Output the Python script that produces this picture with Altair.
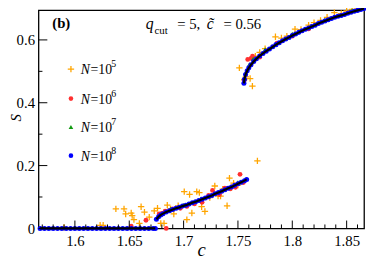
import altair as alt
import pandas as pd

# ---------------- data ----------------
c8_zero = [1.568, 1.572, 1.576, 1.580, 1.584, 1.588, 1.592, 1.596, 1.600, 1.604,
           1.608, 1.612, 1.616, 1.620, 1.624, 1.628, 1.632, 1.636, 1.640, 1.644,
           1.648, 1.652, 1.656, 1.660, 1.664, 1.668, 1.672, 1.674]
S8_zero = [0.0] * len(c8_zero)

c8_low = [1.675, 1.677, 1.679, 1.681, 1.684, 1.687, 1.690, 1.693, 1.696, 1.699,
          1.702, 1.705, 1.708, 1.711, 1.714, 1.717, 1.720, 1.723, 1.726, 1.729,
          1.732, 1.735, 1.738, 1.741, 1.744, 1.747, 1.750, 1.753, 1.756, 1.758]
S8_low = [0.029, 0.037, 0.043, 0.047, 0.052, 0.056, 0.060, 0.064, 0.067, 0.071,
          0.074, 0.078, 0.082, 0.085, 0.089, 0.093, 0.097, 0.101, 0.105, 0.110,
          0.114, 0.118, 0.123, 0.128, 0.132, 0.137, 0.142, 0.147, 0.152, 0.156]

c8_up = [1.7555, 1.7560, 1.7570, 1.7585, 1.7600, 1.7620, 1.7645, 1.7670, 1.7700, 1.7730,
         1.7760, 1.7790, 1.7820, 1.7850, 1.7880, 1.7910, 1.7940, 1.7970, 1.8000, 1.8030,
         1.8060, 1.8090, 1.8120, 1.8150, 1.8180, 1.8210, 1.8240, 1.8270, 1.8300, 1.8330,
         1.8360, 1.8390, 1.8420, 1.8450, 1.8480, 1.8510, 1.8540, 1.8570, 1.8600, 1.8630,
         1.8660]
S8_up = [0.462, 0.475, 0.490, 0.502, 0.511, 0.521, 0.531, 0.540, 0.549, 0.557,
         0.564, 0.571, 0.578, 0.585, 0.591, 0.597, 0.603, 0.608, 0.614, 0.619,
         0.624, 0.629, 0.634, 0.638, 0.643, 0.647, 0.652, 0.656, 0.660, 0.664,
         0.668, 0.672, 0.675, 0.678, 0.681, 0.685, 0.688, 0.691, 0.694, 0.697,
         0.700]

c7 = [1.688, 1.700, 1.716, 1.735, 1.750, 1.757, 1.7605, 1.764, 1.775, 1.800, 1.830, 1.855]
S7 = [0.062, 0.074, 0.095, 0.121, 0.147, 0.495, 0.522, 0.540, 0.570, 0.619, 0.664, 0.694]

c6 = [1.6518, 1.6654, 1.6775, 1.684, 1.680, 1.683, 1.690, 1.697, 1.703, 1.710,
      1.717, 1.723, 1.7266, 1.733, 1.738, 1.743, 1.7477, 1.7519, 1.755,
      1.7558, 1.759, 1.762, 1.7634, 1.770, 1.786, 1.800, 1.815]
S6 = [0.007, 0.026, 0.046, 0.000, 0.048, 0.055, 0.062, 0.064, 0.070, 0.078,
      0.083, 0.105, 0.121, 0.108, 0.128, 0.126, 0.131, 0.172, 0.146,
      0.472, 0.538, 0.541, 0.548, 0.545, 0.590, 0.612, 0.635]

c5 = [1.590, 1.6232, 1.626, 1.6377, 1.6452, 1.6467, 1.6518, 1.6527, 1.6543, 1.6593,
      1.6609, 1.664, 1.6684, 1.673, 1.676, 1.679, 1.682, 1.685, 1.688, 1.691,
      1.695, 1.7006, 1.703, 1.7055, 1.7076, 1.7121, 1.7145, 1.7166, 1.7196, 1.7241,
      1.7287, 1.7317, 1.734, 1.736, 1.740, 1.7422, 1.744, 1.746, 1.750, 1.7679,
      1.7513, 1.7558, 1.7573, 1.7612, 1.7633, 1.766, 1.770, 1.775, 1.7845, 1.790,
      1.795, 1.8025, 1.808, 1.815, 1.820, 1.826, 1.832, 1.8387, 1.845, 1.850,
      1.855, 1.860]
S5 = [0.003, 0.010, 0.010, 0.062, 0.062, 0.046, 0.049, 0.041, 0.028, 0.016,
      0.069, 0.052, 0.036, 0.056, 0.064, 0.016, 0.016, 0.074, 0.062, 0.046,
      0.072, 0.117, 0.028, 0.108, 0.049, 0.117, 0.114, 0.069, 0.054, 0.098,
      0.135, 0.103, 0.103, 0.125, 0.072, 0.160, 0.130, 0.144, 0.138, 0.215,
      0.511, 0.474, 0.482, 0.477, 0.453, 0.548, 0.560, 0.572, 0.610, 0.606,
      0.612, 0.634, 0.633, 0.647, 0.655, 0.662, 0.672, 0.687, 0.684, 0.692,
      0.697, 0.699]

x_major = [1.6, 1.65, 1.7, 1.75, 1.8, 1.85]
x_minor = [1.57, 1.58, 1.59, 1.61, 1.62, 1.63, 1.64, 1.66, 1.67, 1.68, 1.69,
           1.71, 1.72, 1.73, 1.74, 1.76, 1.77, 1.78, 1.79, 1.81, 1.82, 1.83,
           1.84, 1.86]
y_major = [0, 0.2, 0.4, 0.6]
y_minor = [0.1, 0.3, 0.5]

legend_exp = ["5", "6", "7", "8"]
colors = {"5": "#FFA500", "6": "#FF3030", "7": "#109A10", "8": "#0000FF"}

# ---------------- chart ----------------
W, H = 331, 222
FONT = "Liberation Serif, Times New Roman, serif"
PLUS = "M-1,0L1,0M0,-1L0,1"

xs = alt.Scale(domain=[1.5665, 1.866], nice=False, zero=False)
ys = alt.Scale(domain=[0, 0.695], nice=False, zero=False)

xaxis = alt.Axis(values=x_major, format="~g", title="c", ticks=False,
                 domain=False, grid=False, labelFont=FONT, labelFontSize=15,
                 labelPadding=5, labelColor="black", titleFont=FONT,
                 titleFontSize=19, titleFontStyle="italic", titleFontWeight="normal",
                 titleY=28, titleBaseline="alphabetic", titleColor="black")
yaxis = alt.Axis(values=y_major, format="~g", title="S", ticks=False,
                 domain=False, grid=False, labelFont=FONT, labelFontSize=15,
                 labelPadding=4, labelColor="black", titleFont=FONT,
                 titleFontSize=15, titleFontStyle="italic", titleFontWeight="normal",
                 titleX=-30, titleY=109, titleAngle=270, titleAlign="center",
                 titleBaseline="top", titleColor="black")


def X():
    return alt.X("c:Q", scale=xs, axis=xaxis)


def Y():
    return alt.Y("S:Q", scale=ys, axis=yaxis)


d8 = pd.DataFrame({
    "c": c8_zero + c8_low + c8_up,
    "S": S8_zero + S8_low + S8_up,
    "branch": ["z"] * len(c8_zero) + ["l"] * len(c8_low) + ["u"] * len(c8_up),
})
d7 = pd.DataFrame({"c": c7, "S": S7})
d6 = pd.DataFrame({"c": c6, "S": S6})
d5 = pd.DataFrame({"c": c5, "S": S5})

l5 = alt.Chart(d5).mark_point(shape=PLUS, filled=False, size=42, strokeWidth=1.3,
                              color=colors["5"], opacity=1).encode(x=X(), y=Y())
l6 = alt.Chart(d6).mark_point(shape="circle", filled=True, size=24,
                              color=colors["6"], opacity=1).encode(x=X(), y=Y())
l7 = alt.Chart(d7).mark_point(shape="triangle-up", filled=True, size=24,
                              color=colors["7"], opacity=1).encode(x=X(), y=Y())
l8 = alt.Chart(d8).mark_point(shape="circle", filled=True, size=26,
                              color=colors["8"], opacity=1).encode(x=X(), y=Y())
l8line = alt.Chart(d8).mark_line(color="black", strokeWidth=2.2).encode(
    x=X(), y=Y(), detail="branch:N")

# inward ticks
tx_major = alt.Chart(pd.DataFrame({"c": x_major})).mark_rule(color="black", strokeWidth=1).encode(
    x=X(), y=alt.value(H), y2=alt.value(H - 8))
tx_minor = alt.Chart(pd.DataFrame({"c": x_minor})).mark_rule(color="black", strokeWidth=1).encode(
    x=X(), y=alt.value(H), y2=alt.value(H - 4))
ty_major = alt.Chart(pd.DataFrame({"S": y_major})).mark_rule(color="black", strokeWidth=1).encode(
    y=Y(), x=alt.value(0), x2=alt.value(9))
ty_minor = alt.Chart(pd.DataFrame({"S": y_minor})).mark_rule(color="black", strokeWidth=1).encode(
    y=Y(), x=alt.value(0), x2=alt.value(4))


def txt(s, px, py, size, style="normal", weight="normal", align="left"):
    return alt.Chart(pd.DataFrame({"t": [s]})).mark_text(
        align=align, baseline="alphabetic", font=FONT, fontSize=size,
        fontStyle=style, fontWeight=weight, color="black").encode(
        x=alt.value(px), y=alt.value(py), text="t:N")


texts = [
    txt("(b)", 14, 18, 15, weight="bold"),
    txt("q", 109, 19, 16, style="italic"),
    txt("cut", 118, 24, 11),
    txt("= 5,", 141, 19, 15),
    txt("c\u0303", 171, 19, 16, style="italic"),
    txt("= 0.56", 188, 19, 15),
]

leg_rows = [60, 90, 119, 148]
shapes = {"5": PLUS, "6": "circle", "7": "triangle-up", "8": "circle"}
legend = []
for e, ry in zip(legend_exp, leg_rows):
    filled = e != "5"
    legend.append(
        alt.Chart(pd.DataFrame({"n": [e]})).mark_point(
            shape=shapes[e], filled=filled, size=42 if e == "5" else 22,
            strokeWidth=1.3, color=colors[e], opacity=1).encode(
            x=alt.value(33), y=alt.value(ry)))
    legend.append(txt("N", 43, ry + 5, 14, style="italic"))
    legend.append(txt("=10", 53, ry + 5, 14))
    legend.append(txt(e, 74, ry - 2, 10))

chart = alt.layer(
    l5, l6, l7, l8, l8line,
    tx_major, tx_minor, ty_major, ty_minor,
    *texts, *legend
).properties(
    width=W, height=H,
    padding={"left": 31, "top": 0, "right": 2, "bottom": 29},
    autosize=alt.AutoSizeParams(type="none"),
).configure_view(stroke="black", strokeWidth=1.3)

chart.save("out.html", embed_options={"renderer": "svg", "actions": False})
